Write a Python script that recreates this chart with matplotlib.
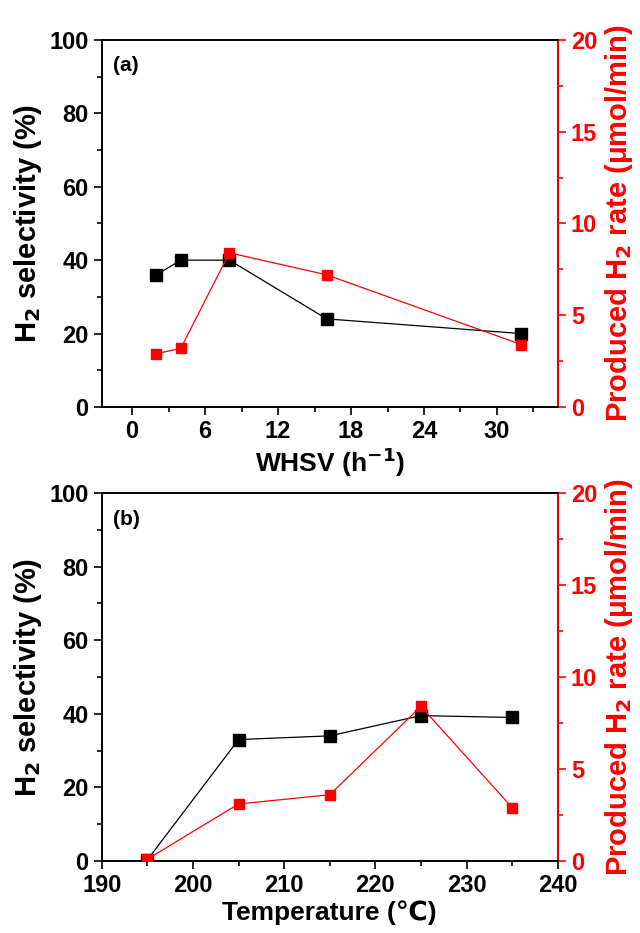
import matplotlib.pyplot as plt
from matplotlib.ticker import MultipleLocator

plt.rcParams['font.family'] = ['Liberation Sans Narrow', 'Liberation Sans', 'DejaVu Sans']
plt.rcParams['font.weight'] = 'bold'

# (a) WHSV series
whsv = [2, 4, 8, 16, 32]
whsv_sel = [36, 40, 40, 24, 20]
whsv_rate = [2.9, 3.2, 8.4, 7.2, 3.4]

# (b) temperature series
temp = [195, 205, 215, 225, 235]
temp_sel = [0.3, 33, 34, 39.5, 39]
temp_rate = [0.1, 3.1, 3.6, 8.4, 2.9]

fig = plt.figure(figsize=(6.4, 9.33), dpi=100)
ax1 = fig.add_axes([0.159, 0.5638, 0.7125, 0.3934])
ax2 = fig.add_axes([0.159, 0.0772, 0.7125, 0.3944])

label_font = ['Liberation Sans', 'DejaVu Sans']


def setup(ax, x, sel, rate, label, xlabel, xlim, xmajor, xminor):
    ax.plot(x, sel, '-', color='black', lw=0.9, marker='s', ms=8, mfc='black', zorder=3)
    ax.set_ylim(0, 100)
    ax.set_xlim(*xlim)
    ax.xaxis.set_major_locator(MultipleLocator(xmajor))
    ax.xaxis.set_minor_locator(MultipleLocator(xminor))
    ax.yaxis.set_major_locator(MultipleLocator(20))
    ax.yaxis.set_minor_locator(MultipleLocator(10))
    ax.tick_params(which='both', direction='out', labelsize=17, width=1.2)
    ax.tick_params(which='major', length=6)
    ax.tick_params(which='minor', length=3.5)
    ax.tick_params(axis='y', which='both', right=False)
    for s in ax.spines.values():
        s.set_linewidth(1.2)
    ax.set_ylabel('H$_2$ selectivity (%)', fontsize=21, fontweight='bold',
                  family=label_font, labelpad=4)
    ax.set_xlabel(xlabel, fontsize=19, fontweight='bold', family=label_font,
                  labelpad=2)
    ax.text(0.025, 0.955, label, transform=ax.transAxes, fontsize=15,
            fontweight='bold', va='top', ha='left')

    tw = ax.twinx()
    tw.plot(x, rate, '-', color='red', lw=0.9, marker='s', ms=7.5, mfc='red', zorder=3)
    tw.set_ylim(0, 20)
    tw.yaxis.set_major_locator(MultipleLocator(5))
    tw.yaxis.set_minor_locator(MultipleLocator(2.5))
    tw.tick_params(axis='y', which='both', direction='out', colors='red',
                   labelsize=17, width=1.2)
    tw.tick_params(axis='y', which='major', length=6)
    tw.tick_params(axis='y', which='minor', length=3.5)
    for s in tw.spines.values():
        s.set_linewidth(1.2)
    tw.spines['right'].set_color('red')
    tw.set_ylabel('Produced H$_2$ rate (\u03bcmol/min)', fontsize=21,
                  fontweight='bold', color='red', family=label_font, labelpad=4)
    return tw


setup(ax1, whsv, whsv_sel, whsv_rate, '(a)', 'WHSV (h$^{-1}$)', (-2.5, 35), 6, 3)
setup(ax2, temp, temp_sel, temp_rate, '(b)', 'Temperature (\u2103)', (190, 240), 10, 5)

fig.savefig('out.png', dpi=100)
